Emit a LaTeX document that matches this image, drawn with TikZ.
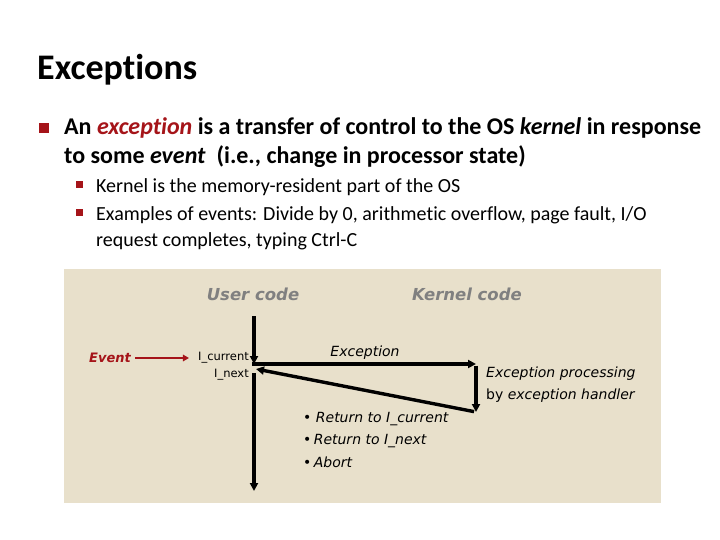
\documentclass[tikz,border=0pt]{standalone}
\usepackage{fontspec}
\setmainfont{Carlito}[Ligatures={NoCommon}]
\newfontfamily\dv{DejaVu Sans}
\usetikzlibrary{arrows.meta}
\definecolor{dred}{RGB}{165,20,25}
\definecolor{beige}{RGB}{232,224,203}
\definecolor{ucgray}{RGB}{128,128,128}
\begin{document}
\begin{tikzpicture}[x=1pt,y=-1pt,
  txt/.style={inner sep=0pt, anchor=base west},
  bsq/.style={fill=dred, inner sep=0pt, minimum size=#1},
  flow/.style={line width=3.4pt, -{Triangle[length=8pt,width=8pt]}},
  redarrow/.style={draw=dred, line width=2pt, -{Triangle[length=6pt,width=6.5pt]}},
  dlab/.style={inner sep=0pt, font=\dv\fontsize{14}{17}\selectfont\itshape},
  small/.style={inner sep=0pt, font=\dv\fontsize{11.5}{14}\selectfont},
  head/.style={inner sep=0pt, text=ucgray, font=\dv\fontsize{16.5}{20}\selectfont\bfseries\itshape}]
\useasboundingbox (0,0) rectangle (720,540);
% title and bullets
\node[txt, font=\fontsize{36}{42}\selectfont\bfseries] (title) at (37,80) {Exceptions};
\node[bsq=10pt] (b1) at (43.5,128) {};
\node[txt, font=\fontsize{24}{28}\selectfont\bfseries] (l1) at (64,135) {An \textcolor{dred}{\textit{exception}} is a transfer of control to the OS \textit{kernel} in response};
\node[txt, font=\fontsize{24}{28}\selectfont\bfseries] (l2) at (64,164) {to some \textit{event}\ \ (i.e., change in processor state)};
\node[bsq=7pt] (s1) at (79.5,184.5) {};
\node[txt, font=\fontsize{20}{24}\selectfont] (t1) at (96,193) {Kernel is the memory-resident part of the OS};
\node[bsq=7pt] (s2) at (79.5,212.5) {};
\node[txt, font=\fontsize{20}{24}\selectfont] (t2) at (96,221) {Examples of events: Divide by 0, arithmetic overflow, page fault, I/O};
\node[txt, font=\fontsize{20}{24}\selectfont] (t3) at (96,246) {request completes, typing Ctrl-C};
% panel
\node[fill=beige, inner sep=0pt, minimum width=597pt, minimum height=234pt, anchor=north west] (panel) at (64,269) {};
\node[head] (uc) at (253,294) {User code};
\node[head] (kc) at (467,294) {Kernel code};
% flow
\coordinate (top) at (254,316);
\coordinate (cur) at (254,364);
\coordinate (nxt) at (256,369);
\coordinate (exc) at (476,364);
\coordinate (hend) at (476,412);
\coordinate (low) at (254,373);
\coordinate (bot) at (254,491);
\draw[flow] (top) -- (cur);
\draw[flow, shorten <=-1.7pt] (cur) -- (exc);
\draw[flow, shorten <=1.7pt] (exc) -- (hend);
\draw[flow, shorten <=2pt] (hend) -- (nxt);
\draw[flow] (low) -- (bot);
\node[dlab] (exl) at (365,353) {Exception};
\node[dlab, anchor=west] (ep1) at (486,374) {Exception processing};
\node[dlab, anchor=west] (ep2) at (486,396) {\upshape by \itshape exception handler};
\node[dlab, anchor=west] (r1) at (303,419) {\upshape\textbullet\ \itshape Return to I\_current};
\node[dlab, anchor=west] (r2) at (303,441) {\upshape\textbullet\,\itshape Return to I\_next};
\node[dlab, anchor=west] (r3) at (303,462) {\upshape\textbullet\,\itshape Abort};
% event
\node[inner sep=0pt, text=dred, font=\dv\fontsize{13}{16}\selectfont\bfseries\itshape] (ev) at (110,358) {Event};
\node[small, anchor=east] (ic) at (249,358) {I\_current};
\node[small, anchor=east] (in) at (249,375) {I\_next};
\draw[redarrow, shorten <=4pt, shorten >=9pt] (ev.east) -- (ic.west |- ev.east);
\end{tikzpicture}
\end{document}
